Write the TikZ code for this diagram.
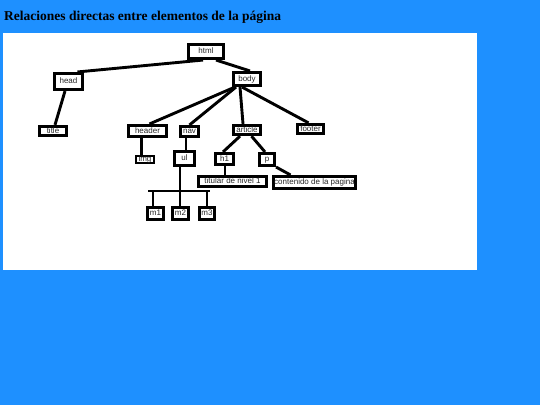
\documentclass[tikz,border=0pt]{standalone}
\usepackage{fontspec}
\setmainfont{Liberation Serif}
\newfontfamily\boxfont{Liberation Sans}
\definecolor{bgblue}{HTML}{1E90FF}
\begin{document}
\begin{tikzpicture}[x=1pt,y=-1pt,
  elem/.style={draw=black, fill=white, line width=2.8pt, inner sep=0pt,
    font=\boxfont\fontsize{8}{9}\selectfont, text=black!85,
    text height=5.8pt, text depth=1.2pt},
  link/.style={line width=2.9pt, draw=black}]
\useasboundingbox (0,0) rectangle (540,405);
\fill[bgblue] (0,0) rectangle (540,405);
\fill[white] (3.3,33.3) rectangle (476.7,270);
\node[anchor=base west, inner sep=0pt, font=\bfseries\fontsize{13.5}{16}\selectfont] (ttl) at (4,20.7) {Relaciones directas entre elementos de la página};
% nodes
\node[elem, minimum width=35.3pt, minimum height=14.3pt] (html) at (206,51.5) {html};
\node[elem, minimum width=28.3pt, minimum height=16.3pt] (head) at (68.5,81.5) {head};
\node[elem, minimum width=27.3pt, minimum height=13.3pt] (body) at (247,79) {body};
\node[elem, minimum width=27.3pt, minimum height=9.5pt] (title) at (53,131) {title};
\node[elem, minimum width=38.3pt, minimum height=11.3pt] (header) at (147.5,131) {header};
\node[elem, minimum width=18.3pt, minimum height=10.3pt] (nav) at (189.5,131.5) {nav};
\node[elem, minimum width=27.3pt, minimum height=9.5pt] (article) at (247,130) {article};
\node[elem, minimum width=26.3pt, minimum height=9.5pt] (footer) at (310.5,129) {footer};
\node[elem, line width=2pt, minimum width=18pt, minimum height=7.5pt, text height=4.6pt, text depth=0.6pt] (img) at (145,159.3) {img};
\node[elem, minimum width=20.3pt, minimum height=14.3pt] (ul) at (184.5,158.5) {ul};
\node[elem, minimum width=17.3pt, minimum height=11.3pt] (h1) at (224.5,159) {h1};
\node[elem, minimum width=15.3pt, minimum height=12.3pt] (p) at (267,159.5) {p};
\node[elem, minimum width=68.3pt, minimum height=10.5pt] (titular) at (232.5,181.5) {titular de nivel 1};
\node[elem, minimum width=82.3pt, minimum height=12.3pt] (contenido) at (314.5,182.5) {contenido de la pagina};
\node[elem, minimum width=16.3pt, minimum height=12.3pt] (m1) at (155.5,213.5) {m1};
\node[elem, minimum width=16.3pt, minimum height=12.3pt] (m2) at (180.5,213.5) {m2};
\node[elem, minimum width=15.3pt, minimum height=12.3pt] (m3) at (207,213.5) {m3};
% connectors
\draw[link] ([xshift=-3pt]html.south) -- ([xshift=9pt]head.north);
\draw[link] ([xshift=10pt]html.south) -- ([xshift=3pt]body.north);
\draw[link] ([xshift=-3.5pt]head.south) -- ([xshift=2pt]title.north);
\draw[link] ([xshift=-12pt]body.south) -- ([xshift=2pt]header.north);
\draw[link] ([xshift=-11pt]body.south) -- (nav.north);
\draw[link] ([xshift=-7pt]body.south) -- ([xshift=-4pt]article.north);
\draw[link] ([xshift=-5pt]body.south) -- ([xshift=-2pt]footer.north);
\draw[link] ([xshift=-6pt]header.south) -- ([xshift=-3.5pt]img.north);
\draw[link] ([xshift=-3.5pt]nav.south) -- ([xshift=1.5pt]ul.north);
\draw[link] ([xshift=-7pt]article.south) -- ([xshift=-1.5pt]h1.north);
\draw[link] ([xshift=4.5pt]article.south) -- ([xshift=-2pt]p.north);
\draw[link] ([xshift=0.5pt]h1.south) -- ([xshift=0.5pt]h1.south |- titular.north);
\draw[link] (p.south east) -- ([xshift=-24pt]contenido.north);
\coordinate (bj) at (180,191);
\coordinate (barL) at (148,191);
\coordinate (barR) at (210,191);
\coordinate (s1) at (153,191);
\coordinate (s3) at (207,191);
\draw[link] (bj |- ul.south) -- (bj);
\draw[link] (barL) -- (barR);
\draw[link] (s1) -- (s1 |- m1.north);
\draw[link] (bj) -- (bj |- m2.north);
\draw[link] (s3) -- (s3 |- m3.north);
\end{tikzpicture}
\end{document}
